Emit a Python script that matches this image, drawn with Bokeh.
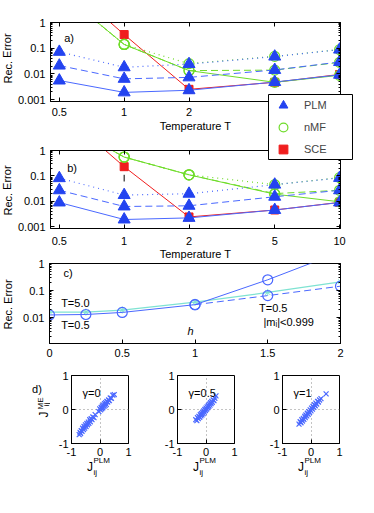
from bokeh.plotting import figure
from bokeh.layouts import column, row
from bokeh.models import (FixedTicker, CustomJSTickFormatter, Legend, LegendItem,
                          Label, Range1d, LogAxis, LinearAxis)
from bokeh.embed import file_html
from bokeh.resources import INLINE

FONT = "Liberation Sans"
FS = "11px"

# ---------------- data ----------------
temps = [0.5, 1, 2, 5, 10]
temp_ticks = [0.5, 1, 2, 5, 10]
err_ticks = [0.001, 0.01, 0.1, 1]
err_minor = [k * 10.0 ** e for e in (-3, -2, -1) for k in range(2, 10)]

# panel a)
a_plm_solid = [0.0055, 0.0019, 0.0023, 0.0048, 0.0092]
a_plm_dashed = [0.021, 0.0064, 0.0073, 0.0142, 0.029]
a_plm_dotted = [0.072, 0.018, 0.024, 0.047, 0.088]
a_nmf_solid = [17, 0.14, 0.0134, 0.0047, 0.0088]
a_nmf_dashed = [17, 0.14, 0.0134, 0.014, 0.028]
a_nmf_dotted = [17, 0.14, 0.025, 0.048, 0.088]
a_sce = [55, 0.34, 0.0025, 0.0047, 0.0095]

# panel b)
b_plm_solid = [0.0089, 0.0019, 0.0022, 0.0045, 0.0089]
b_plm_dashed = [0.027, 0.0062, 0.0066, 0.015, 0.027]
b_plm_dotted = [0.081, 0.0175, 0.0197, 0.045, 0.083]
b_nmf_solid = [15, 0.55, 0.11, 0.019, 0.0095]
b_nmf_dashed = [15, 0.55, 0.11, 0.020, 0.027]
b_nmf_dotted = [15, 0.55, 0.11, 0.045, 0.085]
b_sce = [38, 0.23, 0.0024, 0.0045, 0.009]
b_bar_t = [1]
b_bar_lo = [0.06]
b_bar_hi = [0.11]

# panel c)
h_vals = [0, 0.25, 0.5, 1, 1.5, 2]
h_ticks = [0, 0.5, 1, 1.5, 2]
c_err_ticks = [0.01, 0.1, 1]
c_T5 = [0.016, 0.016, 0.019, 0.037, 0.085, 0.21]
c_T05 = [0.0125, 0.013, 0.0155, 0.030, 0.25, 2.7]
h_cut = [1, 1.5, 2]
c_T05_cut = [0.030, 0.065, 0.145]

# panel d)
d_ticks = [-1, 0, 1]
g0_x = [-0.73, -0.70, -0.68, -0.66, -0.63, -0.61, -0.58, -0.56, -0.54, -0.51, -0.49, -0.46, -0.44, -0.41, -0.39,
        -0.36, -0.34, -0.31, -0.28, -0.25, -0.21, -0.17, -0.04, -0.01, 0.02, 0.04, 0.06, 0.08, 0.10, 0.12,
        0.14, 0.16, 0.18, 0.20, 0.22, 0.24, 0.27, 0.30, 0.33, 0.36, 0.40, 0.45, 0.50]
g0_y = [-0.74, -0.67, -0.71, -0.62, -0.64, -0.55, -0.59, -0.50, -0.55, -0.45, -0.50, -0.41, -0.45, -0.37, -0.41,
        -0.30, -0.36, -0.27, -0.30, -0.22, -0.24, -0.15, -0.06, 0.02, -0.01, 0.06, 0.02, 0.10, 0.05, 0.13,
        0.09, 0.17, 0.12, 0.20, 0.15, 0.24, 0.22, 0.28, 0.26, 0.34, 0.33, 0.42, 0.44]
g05_x = [-0.36, -0.32, -0.30, -0.27, -0.25, -0.22, -0.20, -0.18, -0.16, -0.14, -0.12, -0.10, -0.08, -0.06, -0.04,
         -0.02, 0.00, 0.02, 0.04, 0.06, 0.08, 0.10, 0.12, 0.14, 0.16, 0.18, 0.20, 0.22, 0.25, 0.28, 0.31, 0.35]
g05_y = [-0.30, -0.33, -0.24, -0.27, -0.20, -0.23, -0.15, -0.19, -0.12, -0.16, -0.08, -0.12, -0.04, -0.08, 0.00,
         -0.03, 0.04, 0.01, 0.08, 0.05, 0.12, 0.09, 0.16, 0.13, 0.20, 0.17, 0.24, 0.21, 0.28, 0.26, 0.33, 0.40]
g1_x = [-0.42, -0.38, -0.35, -0.32, -0.30, -0.27, -0.25, -0.22, -0.20, -0.18, -0.15, -0.13, -0.10, -0.08, -0.05,
        -0.03, 0.00, 0.02, 0.05, 0.07, 0.10, 0.12, 0.15, 0.17, 0.20, 0.23, 0.26, 0.30, 0.35, 0.53]
g1_y = [-0.43, -0.36, -0.39, -0.30, -0.34, -0.26, -0.29, -0.20, -0.24, -0.16, -0.19, -0.11, -0.14, -0.06, -0.09,
        -0.01, -0.04, 0.04, 0.01, 0.09, 0.06, 0.14, 0.11, 0.19, 0.16, 0.24, 0.22, 0.28, 0.32, 0.46]

# ---------------- style ----------------
BLUE = "#2343f0"
BLUE_L = "#4a68ff"
GREEN = "#6fdc2a"
RED = "#f01e1e"
CYAN = "#7fe3d2"

fmt_code = "return String(tick);"


def style_axes(p, xstand, ystand, xlab_stand):
    p.grid.visible = False
    p.outline_line_color = "black"
    p.outline_line_alpha = 1
    p.border_fill_alpha = 0
    for ax in p.axis:
        ax.major_label_text_font = FONT
        ax.major_label_text_font_size = FS
        ax.major_label_text_color = "black"
        ax.axis_label_text_font = FONT
        ax.axis_label_text_font_size = FS
        ax.axis_label_text_font_style = "normal"
        ax.axis_label_text_color = "black"
        ax.major_tick_in = 4
        ax.major_tick_out = 0
        ax.minor_tick_in = 2
        ax.minor_tick_out = 0
        ax.axis_line_color = "black"
        ax.major_tick_line_color = "black"
        ax.minor_tick_line_color = "black"
        ax.formatter = CustomJSTickFormatter(code=fmt_code)
    p.xaxis.major_label_standoff = xstand
    p.yaxis.major_label_standoff = ystand
    p.xaxis.axis_label_standoff = xlab_stand


def box_ticks(p, place, axis_cls, ticks, minor):
    ax = axis_cls(ticker=FixedTicker(ticks=ticks, minor_ticks=minor),
                  formatter=CustomJSTickFormatter(code="return '';"),
                  major_tick_in=4, major_tick_out=0, minor_tick_in=2, minor_tick_out=0,
                  major_label_standoff=0, axis_line_color="black",
                  major_label_text_font_size="8px")
    p.add_layout(ax, place)


def blank_fig(width, height, xr, yr, margin=None):
    f = figure(width=width, height=height, x_range=Range1d(*xr), y_range=Range1d(*yr),
               x_axis_location=None, y_axis_location=None, min_border=0,
               output_backend="svg", toolbar_location=None, title=None, frame_align=False)
    f.grid.visible = False
    f.outline_line_color = None
    f.background_fill_alpha = 0
    f.border_fill_alpha = 0
    if margin is not None:
        f.margin = margin
    return f


def temp_panel(height, top, bottom, xstand, xlab_stand, margin_top):
    p = figure(width=352, height=height, x_axis_type="log", y_axis_type="log",
               x_range=Range1d(0.455, 10.1), y_range=Range1d(0.00084, 1),
               output_backend="svg", toolbar_location=None, title=None, frame_align=False,
               min_border_left=35, min_border_right=26, min_border_top=top,
               min_border_bottom=bottom)
    p.xaxis.ticker = FixedTicker(ticks=temp_ticks, minor_ticks=[])
    p.yaxis.ticker = FixedTicker(ticks=err_ticks, minor_ticks=err_minor)
    p.xaxis.axis_label = "Temperature T"
    style_axes(p, xstand, 5, xlab_stand)
    box_ticks(p, "right", LogAxis, err_ticks, err_minor)
    box_ticks(p, "above", LogAxis, temp_ticks, [])
    if margin_top:
        p.margin = (margin_top, 0, 0, 0)
    return p


def draw_series(p, sce, nmf_s, nmf_d, nmf_o, plm_s, plm_d, plm_o):
    p.line(temps, sce, line_color=RED, line_width=1)
    p.scatter(temps, sce, marker="square", size=8, fill_color=RED, line_color=RED)
    p.line(temps, nmf_o, line_color=GREEN, line_width=1.2, line_dash="1 4")
    p.line(temps, nmf_d, line_color=GREEN, line_width=1, line_dash="7 4")
    p.line(temps, nmf_s, line_color=GREEN, line_width=1)
    for ys in (nmf_s, nmf_d, nmf_o):
        p.scatter(temps, ys, marker="circle", size=10, fill_color=None,
                  line_color=GREEN, line_width=1.2)
    p.line(temps, plm_o, line_color=BLUE_L, line_width=1.2, line_dash="1 4")
    p.line(temps, plm_d, line_color=BLUE_L, line_width=1, line_dash="7 4")
    p.line(temps, plm_s, line_color=BLUE_L, line_width=1)
    for ys in (plm_s, plm_d, plm_o):
        p.scatter(temps, ys, marker="triangle", size=12, fill_color=BLUE, line_color=BLUE)


def txt(p, x, y, text, **kw):
    opts = dict(text_font=FONT, text_font_size=FS, text_color="black",
                text_baseline="middle", text_align="left")
    opts.update(kw)
    p.add_layout(Label(x=x, y=y, text=text, **opts))


ROT = 1.5708

# ---------------- strip with the y axis titles of a), b), c) ----------------
strip_abc = blank_fig(14, 366, (0, 14), (366, 0))
txt(strip_abc, 7, 58, "Rec. Error", text_align="center", angle=ROT)
txt(strip_abc, 7, 190, "Rec. Error", text_align="center", angle=ROT)
txt(strip_abc, 7.5, 304, "Rec. Error", text_align="center", angle=ROT)

# ---------------- panel a ----------------
pa = temp_panel(136, 22, 35, 6, 1, 0)
draw_series(pa, a_sce, a_nmf_solid, a_nmf_dashed, a_nmf_dotted,
            a_plm_solid, a_plm_dashed, a_plm_dotted)
txt(pa, 0.527, 0.245, "a)")

# ---------------- panel b ----------------
pb = temp_panel(168, 56, 32, 8, 0, -42)
pb.segment(x0=b_bar_t, y0=b_bar_lo, x1=b_bar_t, y1=b_bar_hi, line_color="black", line_width=1)
draw_series(pb, b_sce, b_nmf_solid, b_nmf_dashed, b_nmf_dotted,
            b_plm_solid, b_plm_dashed, b_plm_dotted)
txt(pb, 0.544, 0.21, "b)")

# ---------------- legend box (overlaps a and b) ----------------
pl = figure(width=352, height=66, x_range=Range1d(0, 1), y_range=Range1d(0, 1),
            x_axis_location=None, y_axis_location=None, frame_align=False,
            min_border_left=254, min_border_right=14, min_border_top=0, min_border_bottom=0,
            output_backend="svg", toolbar_location=None, title=None)
pl.grid.visible = False
pl.outline_line_color = "black"
pl.outline_line_width = 1
pl.background_fill_color = "white"
pl.border_fill_alpha = 0
pl.margin = (-168, 0, 0, 0)
pl.extra_x_ranges = {"off": Range1d(1000, 1001)}
r_plm = pl.scatter(temps, b_plm_solid, marker="triangle", size=12, fill_color=BLUE,
                   line_color=BLUE, x_range_name="off")
r_nmf = pl.scatter(temps, b_nmf_solid, marker="circle", size=10, fill_color=None,
                   line_color=GREEN, line_width=1.2, x_range_name="off")
r_sce = pl.scatter(temps, b_sce, marker="square", size=8, fill_color=RED,
                   line_color=RED, x_range_name="off")
legend = Legend(items=[LegendItem(label="PLM", renderers=[r_plm]),
                       LegendItem(label="nMF", renderers=[r_nmf]),
                       LegendItem(label="SCE", renderers=[r_sce])],
                location=(0, 0), margin=0, padding=dict(left=14, right=6, top=0, bottom=0),
                spacing=0, glyph_height=22, glyph_width=30, label_standoff=6, label_width=28,
                label_height=22, label_text_font=FONT, label_text_font_size=FS,
                border_line_color=None, background_fill_alpha=0)
pl.add_layout(legend)

# ---------------- panel c ----------------
pc = figure(width=352, height=114, y_axis_type="log",
            x_range=Range1d(0, 2), y_range=Range1d(0.0011, 1),
            output_backend="svg", toolbar_location=None, title=None, frame_align=False,
            min_border_left=35, min_border_right=26, min_border_top=11, min_border_bottom=23)
pc.xaxis.ticker = FixedTicker(ticks=h_ticks, minor_ticks=[])
pc.yaxis.ticker = FixedTicker(ticks=c_err_ticks, minor_ticks=err_minor)
style_axes(pc, 5, 5, 2)
box_ticks(pc, "right", LogAxis, c_err_ticks, err_minor)
pc.margin = (92, 0, 0, 0)
pc.line(h_vals, c_T5, line_color=CYAN, line_width=1.2)
pc.scatter(h_vals, c_T5, marker="asterisk", size=7, line_color=CYAN, line_width=1)
pc.line(h_cut, c_T05_cut, line_color=BLUE_L, line_width=1, line_dash="7 4")
pc.line(h_vals, c_T05, line_color=BLUE_L, line_width=1)
pc.scatter(h_cut, c_T05_cut, marker="circle", size=10, fill_color=None, line_color=BLUE_L, line_width=1.2)
pc.scatter(h_vals, c_T05, marker="circle", size=10, fill_color=None, line_color=BLUE_L, line_width=1.2)
txt(pc, 0.096, 0.46, "c)")
txt(pc, 0.08, 0.034, "T=5.0")
txt(pc, 0.08, 0.0055, "T=0.5")
txt(pc, 1.44, 0.022, "T=0.5")
txt(pc, 1.47, 0.0068, "|m\u1d62|<0.999")
txt(pc, 0.97, 0.0033, "h", text_align="center", text_font_style="italic")

col_abc = column(pa, pb, pl, pc)


# ---------------- panel d ----------------
def d_panel(width, left, right, xs, ys, gamma_text):
    p = figure(width=width, height=119, x_range=Range1d(-1, 1), y_range=Range1d(-1, 1),
               output_backend="svg", toolbar_location=None, title=None, frame_align=False,
               min_border_left=left, min_border_right=right, min_border_top=9, min_border_bottom=42)
    p.xaxis.ticker = FixedTicker(ticks=d_ticks, minor_ticks=[])
    p.yaxis.ticker = FixedTicker(ticks=d_ticks, minor_ticks=[])
    style_axes(p, 4, 3, 0)
    p.grid.visible = True
    p.xgrid.ticker = FixedTicker(ticks=[0])
    p.ygrid.ticker = FixedTicker(ticks=[0])
    p.grid.grid_line_color = "#888888"
    p.grid.grid_line_dash = "1 3"
    p.scatter(xs, ys, marker="x", size=7, line_color=BLUE_L, line_width=1.2)
    txt(p, -0.61, 0.5, gamma_text)
    return p


strip_d = blank_fig(50, 119, (0, 50), (485, 366))
txt(strip_d, 36.5, 388, "d)", text_align="center")
txt(strip_d, 43, 414, "J", text_align="center", text_font_size="12px", angle=ROT)
txt(strip_d, 40, 403, "ME", text_align="center", text_font_size="8px", angle=ROT)
txt(strip_d, 46, 404, "ij", text_align="center", text_font_size="8px", angle=ROT)

d1 = d_panel(90, 21, 12, g0_x, g0_y, "\u03b3=0")
d2 = d_panel(105, 37, 11, g05_x, g05_y, "\u03b3=0.5")
d3 = d_panel(121, 37, 27, g1_x, g1_y, "\u03b3=1")

# x-axis titles of the d) panels
dj = blank_fig(366, 33, (0, 366), (485, 452), margin=(-33, 0, 0, 0))
for cx in (99.5, 205.5, 310.5):
    txt(dj, cx - 10, 466, "J", text_align="center", text_font_size="12px")
    txt(dj, cx - 6.5, 459.5, "PLM", text_font_size="8px")
    txt(dj, cx - 6.5, 472, "ij", text_font_size="8px")

layout = column(row(strip_abc, col_abc), row(strip_d, d1, d2, d3), dj)

open("out.html", "w", encoding="utf-8").write(file_html(layout, INLINE))
